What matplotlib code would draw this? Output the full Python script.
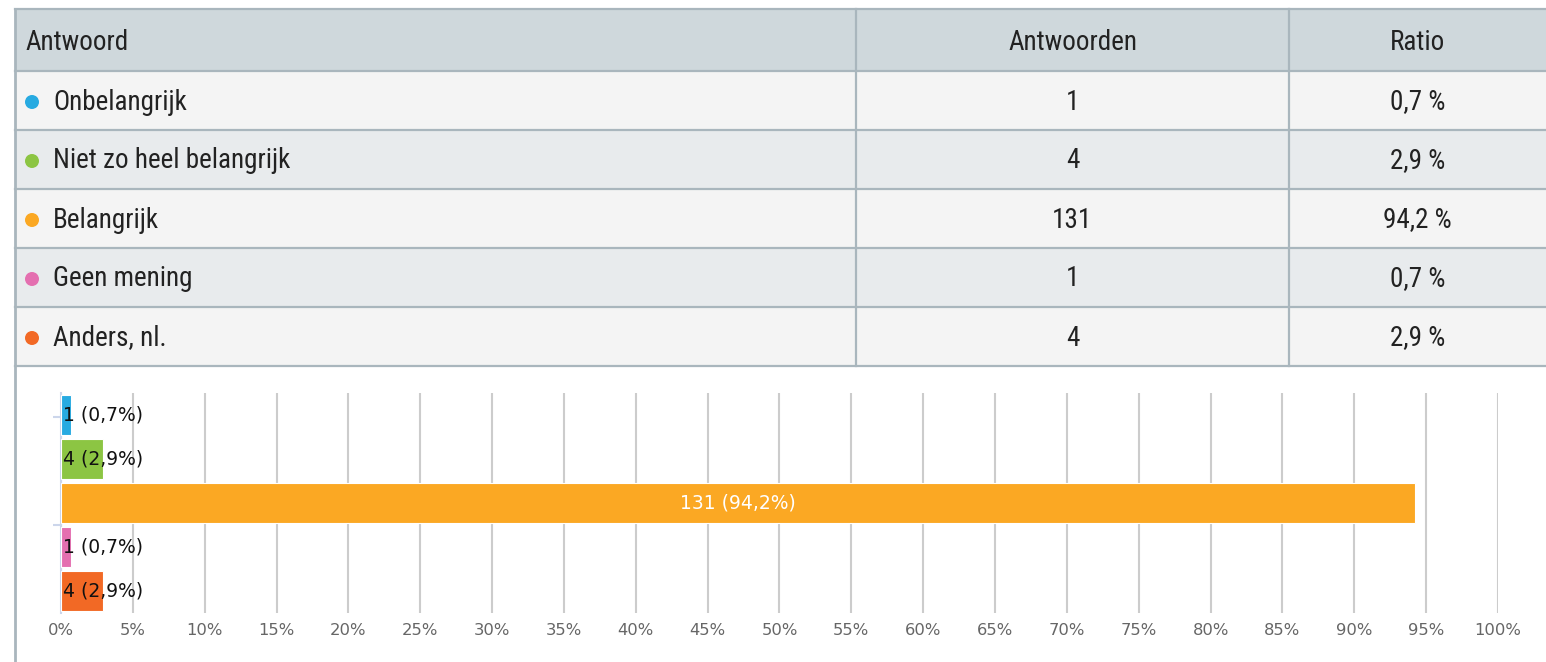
import matplotlib
matplotlib.use("Agg")
import matplotlib.pyplot as plt
from matplotlib.patches import Rectangle, Circle

# data
antwoorden = ['Onbelangrijk', 'Niet zo heel belangrijk', 'Belangrijk', 'Geen mening', 'Anders, nl.']
aantal = [1, 4, 131, 1, 4]
ratio = [0.7, 2.9, 94.2, 0.7, 2.9]
kleuren = ['#27aae1', '#8cc543', '#fba823', '#e46fb0', '#f26925']
kolommen = ['Antwoord', 'Antwoorden', 'Ratio']
xticks = list(range(0, 101, 5))

W, H = 1546, 662
fig = plt.figure(figsize=(W / 100, H / 100), dpi=100)

# table drawn in pixel coordinates
tab = fig.add_axes([0, 0, 1, 1])
tab.set_xlim(0, W)
tab.set_ylim(H, 0)
tab.axis('off')

tfont = ['Liberation Sans Narrow', 'Roboto Condensed', 'DejaVu Sans']
tsize = 19.5
border = '#a9b6bd'
left, top = 15, 9
head_h, row_h = 62, 59
col1, col2 = 856, 1289

tab.add_patch(Rectangle((left, top), W - left, head_h, fc='#cfd8dc', ec='none'))
for i in range(len(antwoorden)):
    y0 = top + head_h + i * row_h
    fc = '#f4f4f4' if i % 2 == 0 else '#e8ebed'
    tab.add_patch(Rectangle((left, y0), W - left, row_h, fc=fc, ec='none'))

bottom = top + head_h + len(antwoorden) * row_h
for k in range(len(antwoorden) + 2):
    y = top if k == 0 else top + head_h + (k - 1) * row_h
    tab.plot([left, W], [y, y], color=border, lw=1.6)
tab.plot([left, left], [top, H], color=border, lw=2)
for xc in (col1, col2):
    tab.plot([xc, xc], [top, bottom], color=border, lw=1.6)

ty = top + head_h / 2 + 2
tab.text(25, ty, kolommen[0], ha='left', va='center', fontsize=tsize, family=tfont, color='#222222')
tab.text((col1 + col2) / 2, ty, kolommen[1], ha='center', va='center', fontsize=tsize, family=tfont, color='#222222')
tab.text((col2 + W) / 2, ty, kolommen[2], ha='center', va='center', fontsize=tsize, family=tfont, color='#222222')

for i, (naam, n, r, c) in enumerate(zip(antwoorden, aantal, ratio, kleuren)):
    yc = top + head_h + i * row_h + row_h / 2 + 1.5
    tab.add_patch(Circle((32, yc), 7, fc=c, ec='none'))
    tab.text(53, yc, naam, ha='left', va='center', fontsize=tsize, family=tfont, color='#222222')
    tab.text((col1 + col2) / 2, yc, str(n), ha='center', va='center', fontsize=tsize, family=tfont, color='#222222')
    tab.text((col2 + W) / 2, yc, f'{r:.1f} %'.replace('.', ','), ha='center', va='center',
             fontsize=tsize, family=tfont, color='#222222')

# bar chart
x0, x1 = 61, 1498
y_top, y_bot = 393, 613
ax = fig.add_axes([x0 / W, 1 - y_bot / H, (x1 - x0) / W, (y_bot - y_top) / H])
ypos = list(range(len(antwoorden)))
ax.barh(ypos, ratio, height=0.91, color=kleuren, edgecolor='white', linewidth=0.8, zorder=3)
ax.set_xlim(0, 100)
ax.set_ylim(len(antwoorden) - 0.5, -0.5)
ax.set_xticks(xticks)
ax.set_xticklabels([f'{t}%' for t in xticks], color='#666666', fontsize=11.8)
ax.set_yticks([0.05, 2.5])
ax.set_yticklabels(['', ''])
ax.tick_params(axis='y', length=6, color='#ccd6eb', width=1.5)
ax.tick_params(axis='x', length=0, pad=7)
ax.grid(axis='x', color='#cccccc', lw=1.5, zorder=0)
for s in ('top', 'right', 'bottom'):
    ax.spines[s].set_visible(False)
ax.spines['left'].set_color('#ccd6eb')
ax.spines['left'].set_linewidth(1.5)
ax.set_facecolor('none')

for y, n, r in zip(ypos, aantal, ratio):
    lab = f'{n} ({r:.1f}%)'.replace('.', ',')
    if r > 20:
        ax.text(r / 2, y, lab, ha='center', va='center', color='white', fontsize=13.5, zorder=4)
    else:
        ax.text(0.15, y, lab, ha='left', va='center', color='#111111', fontsize=13.5, zorder=4)

fig.savefig('out.png', dpi=100)
